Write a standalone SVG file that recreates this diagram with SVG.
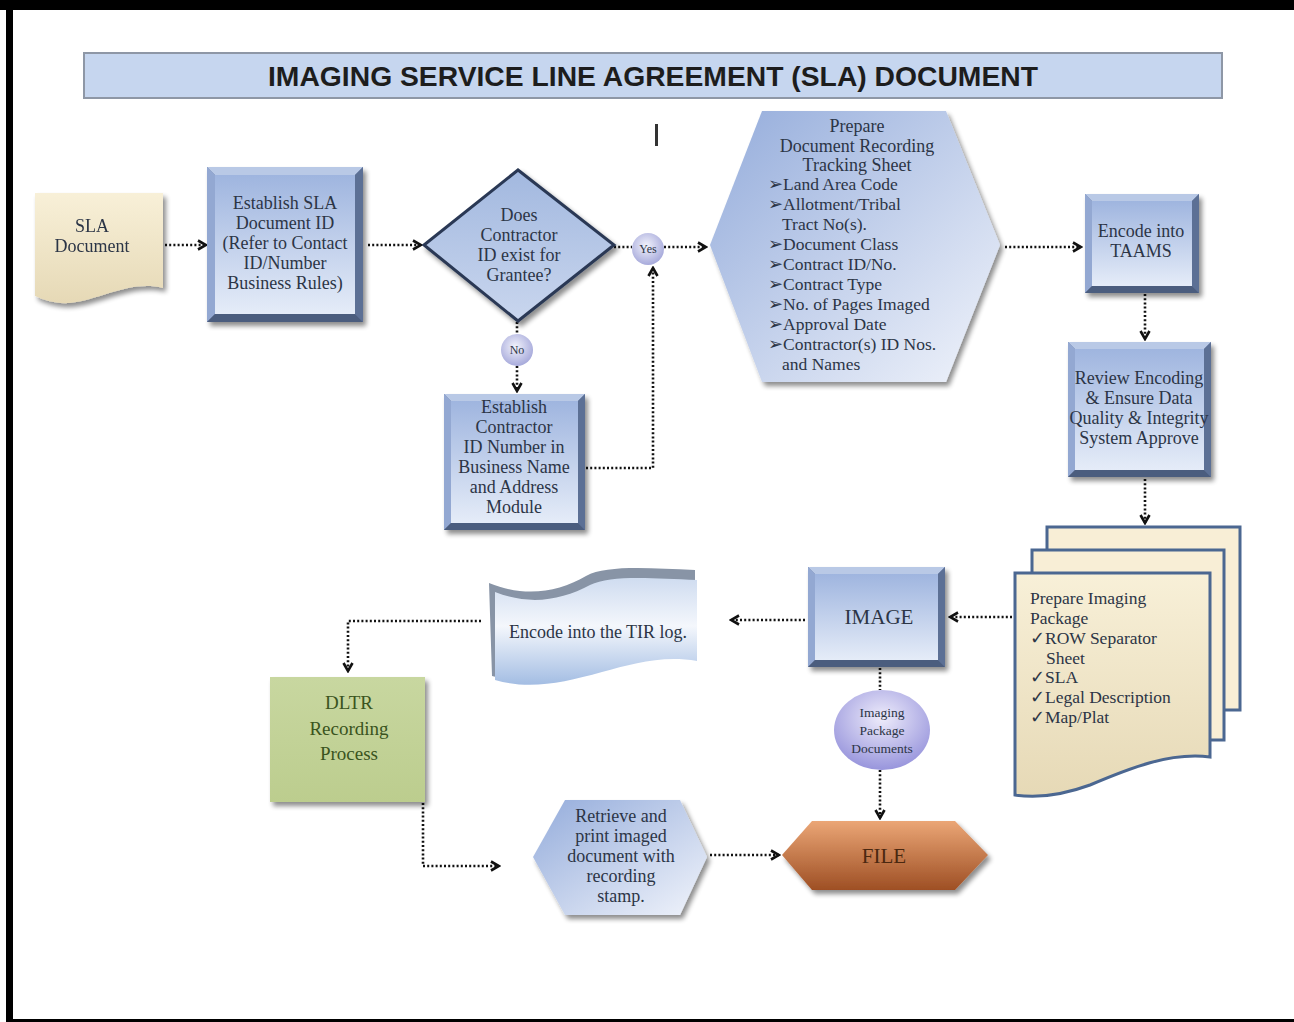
<svg xmlns="http://www.w3.org/2000/svg" width="1294" height="1022" viewBox="0 0 1294 1022">
  <defs>
    <style>
      .t { font-family: "Liberation Serif", "Times New Roman", serif; font-size: 18px; fill: #2c3546; text-anchor: middle; }
      .tl { font-family: "Liberation Serif", "Times New Roman", serif; font-size: 17.5px; fill: #2c3546; text-anchor: start; }
      .sm { font-family: "Liberation Serif", "Times New Roman", serif; fill: #2c3546; text-anchor: middle; }
      .conn { fill: none; stroke: #111; stroke-width: 2.6; stroke-dasharray: 2 2.2; }
      .arr { marker-end: url(#chev); }
    </style>
    <marker id="chev" viewBox="0 0 12 12" refX="10" refY="6" markerWidth="12" markerHeight="12" markerUnits="userSpaceOnUse" orient="auto">
      <path d="M2,1.5 L10,6 L2,10.5" fill="none" stroke="#111" stroke-width="2.6"/>
    </marker>
    <filter id="shadow" x="-10%" y="-10%" width="130%" height="130%">
      <feGaussianBlur in="SourceAlpha" stdDeviation="2.5"/>
      <feOffset dx="3" dy="4" result="b"/>
      <feComponentTransfer><feFuncA type="linear" slope="0.45"/></feComponentTransfer>
      <feMerge><feMergeNode/><feMergeNode in="SourceGraphic"/></feMerge>
    </filter>
    <linearGradient id="blueFace" x1="0" y1="0" x2="0" y2="1">
      <stop offset="0" stop-color="#9fb5df"/>
      <stop offset="1" stop-color="#e5ecf8"/>
    </linearGradient>
    <linearGradient id="hexFace" x1="0" y1="0" x2="1" y2="1">
      <stop offset="0" stop-color="#94acdb"/>
      <stop offset="1" stop-color="#f1f4fb"/>
    </linearGradient>
    <linearGradient id="diaFace" x1="0" y1="0" x2="0" y2="1">
      <stop offset="0" stop-color="#a2b8df"/>
      <stop offset="1" stop-color="#c9d6ee"/>
    </linearGradient>
    <linearGradient id="docFace" x1="0" y1="0" x2="0" y2="1">
      <stop offset="0" stop-color="#f8f0d8"/>
      <stop offset="1" stop-color="#e6d9b6"/>
    </linearGradient>
    <linearGradient id="tapeFace" x1="0" y1="0" x2="0" y2="1">
      <stop offset="0" stop-color="#cfdcf0"/>
      <stop offset="0.45" stop-color="#f4f7fc"/>
      <stop offset="1" stop-color="#a3bde3"/>
    </linearGradient>
    <linearGradient id="greenFace" x1="0" y1="0" x2="0" y2="1">
      <stop offset="0" stop-color="#c8d7a0"/>
      <stop offset="1" stop-color="#bccd8e"/>
    </linearGradient>
    <linearGradient id="fileFace" x1="0" y1="0" x2="0" y2="1">
      <stop offset="0" stop-color="#eba676"/>
      <stop offset="1" stop-color="#9e4f24"/>
    </linearGradient>
    <radialGradient id="bubble" cx="0.45" cy="0.4" r="0.6">
      <stop offset="0" stop-color="#f2f3fc"/>
      <stop offset="1" stop-color="#a7aadb"/>
    </radialGradient>
    <radialGradient id="lavender" cx="0.5" cy="0.35" r="0.65">
      <stop offset="0" stop-color="#eeecfb"/>
      <stop offset="1" stop-color="#9895dc"/>
    </radialGradient>
  </defs>

  <!-- page -->
  <rect width="1294" height="1022" fill="#ffffff"/>
  <rect x="0" y="0" width="1294" height="10" fill="#000"/>
  <rect x="6" y="0" width="7" height="1022" fill="#000"/>
  <rect x="6" y="1019" width="1288" height="3" fill="#000"/>

  <!-- title -->
  <g id="title">
    <rect x="84" y="53" width="1138" height="45" fill="#c6d6ef" stroke="#8e97a6" stroke-width="2"/>
    <text x="653" y="86" font-family="Liberation Sans, Arial, sans-serif" font-weight="bold" font-size="28" fill="#1d1d1d" text-anchor="middle" textLength="770" lengthAdjust="spacingAndGlyphs">IMAGING SERVICE LINE AGREEMENT (SLA) DOCUMENT</text>
  </g>
  <rect x="655" y="124" width="3" height="22" fill="#333"/>

  <!-- connectors -->
  <g id="connectors">
    <path class="conn arr" d="M165,245 H206"/>
    <path class="conn arr" d="M368,245 H421"/>
    <path class="conn" d="M614,247 H632"/>
    <path class="conn arr" d="M664,247 H706"/>
    <path class="conn" d="M517,322 V334"/>
    <path class="conn arr" d="M517,366 V391"/>
    <path class="conn arr" d="M586,468 H653 V268"/>
    <path class="conn arr" d="M1005,247 H1081"/>
    <path class="conn arr" d="M1145,294 V339"/>
    <path class="conn arr" d="M1145,479 V523"/>
    <path class="conn arr" d="M1012,617 H950"/>
    <path class="conn arr" d="M805,620 H731"/>
    <path class="conn arr" d="M481,621 H348 V671"/>
    <path class="conn arr" d="M423,803 V866 H499"/>
    <path class="conn arr" d="M710,855 H779"/>
    <path class="conn" d="M880,668 V690"/>
    <path class="conn arr" d="M880,770 V818"/>
  </g>

  <!-- SLA document -->
  <g id="sla-document" filter="url(#shadow)">
    <path d="M35,193 H163 V288 C130,280 100,300 70,303 C55,304 44,300 35,296 Z" fill="url(#docFace)"/>
    <text class="t" x="92" y="232">SLA</text>
    <text class="t" x="92" y="252">Document</text>
  </g>

  <!-- Establish SLA Document ID -->
  <g id="establish-sla">
    <g filter="url(#shadow)">
      <rect x="207" y="167" width="156" height="155" fill="#6c80a6"/>
      <polygon points="207,167 363,167 355,175 215,175" fill="#b9c9e6"/>
      <polygon points="207,167 215,175 215,314 207,322" fill="#93a8d2"/>
      <polygon points="363,167 363,322 355,314 355,175" fill="#5b6f95"/>
      <polygon points="207,322 363,322 355,314 215,314" fill="#4c5d7e"/>
      <rect x="215" y="175" width="140" height="139" fill="url(#blueFace)"/>
    </g>
    <text class="t" x="285" y="209">Establish SLA</text>
    <text class="t" x="285" y="229">Document ID</text>
    <text class="t" x="285" y="249">(Refer to Contact</text>
    <text class="t" x="285" y="269">ID/Number</text>
    <text class="t" x="285" y="289">Business Rules)</text>
  </g>

  <!-- Decision -->
  <g id="decision">
    <polygon points="424,245 518,170 614,245 518,321" fill="url(#diaFace)" stroke="#2a3954" stroke-width="3" filter="url(#shadow)"/>
    <text class="t" x="519" y="221">Does</text>
    <text class="t" x="519" y="241">Contractor</text>
    <text class="t" x="519" y="261">ID exist for</text>
    <text class="t" x="519" y="281">Grantee?</text>
  </g>

  <g id="yes">
    <circle cx="648" cy="249" r="16" fill="url(#bubble)"/>
    <text class="sm" x="648" y="253" font-size="12">Yes</text>
  </g>
  <g id="no">
    <circle cx="517" cy="350" r="16" fill="url(#bubble)"/>
    <text class="sm" x="517" y="354" font-size="12">No</text>
  </g>

  <!-- Establish Contractor ID -->
  <g id="establish-contractor">
    <g filter="url(#shadow)">
      <rect x="444" y="394" width="141" height="136" fill="#6c80a6"/>
      <polygon points="444,394 585,394 578,401 451,401" fill="#b9c9e6"/>
      <polygon points="444,394 451,401 451,523 444,530" fill="#93a8d2"/>
      <polygon points="585,394 585,530 578,523 578,401" fill="#5b6f95"/>
      <polygon points="444,530 585,530 578,523 451,523" fill="#4c5d7e"/>
      <rect x="451" y="401" width="127" height="122" fill="url(#blueFace)"/>
    </g>
    <text class="t" x="514" y="413">Establish</text>
    <text class="t" x="514" y="433">Contractor</text>
    <text class="t" x="514" y="453">ID Number in</text>
    <text class="t" x="514" y="473">Business Name</text>
    <text class="t" x="514" y="493">and Address</text>
    <text class="t" x="514" y="513">Module</text>
  </g>

  <!-- Prepare Document Recording Tracking Sheet -->
  <g id="tracking-sheet">
    <polygon points="710,245 762,111 946,111 1000,245 946,382 762,382" fill="url(#hexFace)" filter="url(#shadow)"/>
    <text class="t" x="857" y="132">Prepare</text>
    <text class="t" x="857" y="152">Document Recording</text>
    <text class="t" x="857" y="171">Tracking Sheet</text>
    <text class="tl" x="768" y="190">➢Land Area Code</text>
    <text class="tl" x="768" y="210">➢Allotment/Tribal</text>
    <text class="tl" x="782" y="230">Tract No(s).</text>
    <text class="tl" x="768" y="250">➢Document Class</text>
    <text class="tl" x="768" y="270">➢Contract ID/No.</text>
    <text class="tl" x="768" y="290">➢Contract Type</text>
    <text class="tl" x="768" y="310">➢No. of Pages Imaged</text>
    <text class="tl" x="768" y="330">➢Approval Date</text>
    <text class="tl" x="768" y="350">➢Contractor(s) ID Nos.</text>
    <text class="tl" x="782" y="370">and Names</text>
  </g>

  <!-- Encode into TAAMS -->
  <g id="encode-taams">
    <g filter="url(#shadow)">
      <rect x="1085" y="194" width="114" height="99" fill="#6c80a6"/>
      <polygon points="1085,194 1199,194 1192,201 1092,201" fill="#b9c9e6"/>
      <polygon points="1085,194 1092,201 1092,286 1085,293" fill="#93a8d2"/>
      <polygon points="1199,194 1199,293 1192,286 1192,201" fill="#5b6f95"/>
      <polygon points="1085,293 1199,293 1192,286 1092,286" fill="#4c5d7e"/>
      <rect x="1092" y="201" width="100" height="85" fill="url(#blueFace)"/>
    </g>
    <text class="t" x="1141" y="237">Encode into</text>
    <text class="t" x="1141" y="257">TAAMS</text>
  </g>

  <!-- Review Encoding -->
  <g id="review-encoding">
    <g filter="url(#shadow)">
      <rect x="1068" y="342" width="143" height="135" fill="#6c80a6"/>
      <polygon points="1068,342 1211,342 1204,349 1075,349" fill="#b9c9e6"/>
      <polygon points="1068,342 1075,349 1075,470 1068,477" fill="#93a8d2"/>
      <polygon points="1211,342 1211,477 1204,470 1204,349" fill="#5b6f95"/>
      <polygon points="1068,477 1211,477 1204,470 1075,470" fill="#4c5d7e"/>
      <rect x="1075" y="349" width="129" height="121" fill="url(#blueFace)"/>
    </g>
    <text class="t" x="1139" y="384">Review Encoding</text>
    <text class="t" x="1139" y="404">&amp; Ensure Data</text>
    <text class="t" x="1139" y="424">Quality &amp; Integrity</text>
    <text class="t" x="1139" y="444">System Approve</text>
  </g>

  <!-- Prepare Imaging Package -->
  <g id="imaging-package">
    <rect x="1047" y="527" width="193" height="183" fill="#f8eed6" stroke="#4b6791" stroke-width="3"/>
    <rect x="1032" y="550" width="192" height="190" fill="#f8eed6" stroke="#4b6791" stroke-width="3"/>
    <path d="M1015,573 H1210 V757 C1170,752 1130,768 1090,785 C1060,796 1035,798 1015,795 Z" fill="url(#docFace)" stroke="#4b6791" stroke-width="3"/>
    <text class="tl" x="1030" y="604">Prepare Imaging</text>
    <text class="tl" x="1030" y="624">Package</text>
    <text class="tl" x="1030" y="644">✓ROW Separator</text>
    <text class="tl" x="1046" y="664">Sheet</text>
    <text class="tl" x="1030" y="683">✓SLA</text>
    <text class="tl" x="1030" y="703">✓Legal Description</text>
    <text class="tl" x="1030" y="723">✓Map/Plat</text>
  </g>

  <!-- IMAGE -->
  <g id="image">
    <g filter="url(#shadow)">
      <rect x="808" y="567" width="137" height="100" fill="#6c80a6"/>
      <polygon points="808,567 945,567 938,574 815,574" fill="#b9c9e6"/>
      <polygon points="808,567 815,574 815,660 808,667" fill="#93a8d2"/>
      <polygon points="945,567 945,667 938,660 938,574" fill="#5b6f95"/>
      <polygon points="808,667 945,667 938,660 815,660" fill="#4c5d7e"/>
      <rect x="815" y="574" width="123" height="86" fill="url(#blueFace)"/>
    </g>
    <text class="t" x="879" y="624" style="font-size:21px">IMAGE</text>
  </g>

  <!-- Encode into the TIR log -->
  <g id="tir-log">
    <path d="M491,587 C528,602 560,596 588,580 C608,569 650,572 697,574 L697,661 C662,655 632,664 602,672 C562,683 530,690 494,680 Z" fill="#8894a6" transform="translate(-2,-4)"/>
    <path d="M495,592 C530,606 562,600 590,585 C610,575 650,578 697,580 L697,661 C662,655 632,664 602,672 C562,683 530,690 495,680 Z" fill="url(#tapeFace)"/>
    <text class="t" x="598" y="638">Encode into the TIR log.</text>
  </g>

  <!-- Imaging Package Documents -->
  <g id="package-documents">
    <ellipse cx="882" cy="730" rx="48" ry="40" fill="url(#lavender)"/>
    <text class="sm" x="882" y="717" font-size="13.5">Imaging</text>
    <text class="sm" x="882" y="735" font-size="13.5">Package</text>
    <text class="sm" x="882" y="753" font-size="13.5">Documents</text>
  </g>

  <!-- DLTR Recording Process -->
  <g id="dltr">
    <rect x="270" y="677" width="155" height="125" fill="url(#greenFace)" filter="url(#shadow)"/>
    <text class="t" x="349" y="709" style="fill:#3a5420;font-size:19px">DLTR</text>
    <text class="t" x="349" y="735" style="fill:#3a5420;font-size:19px">Recording</text>
    <text class="t" x="349" y="760" style="fill:#3a5420;font-size:19px">Process</text>
  </g>

  <!-- Retrieve and print -->
  <g id="retrieve">
    <polygon points="533,857 565,800 680,800 707,857 680,915 565,915" fill="url(#hexFace)" filter="url(#shadow)"/>
    <text class="t" x="621" y="822">Retrieve and</text>
    <text class="t" x="621" y="842">print imaged</text>
    <text class="t" x="621" y="862">document with</text>
    <text class="t" x="621" y="882">recording</text>
    <text class="t" x="621" y="902">stamp.</text>
  </g>

  <!-- FILE -->
  <g id="file">
    <polygon points="782,855 812,821 955,821 988,855 955,890 812,890" fill="url(#fileFace)" filter="url(#shadow)"/>
    <text class="t" x="884" y="863" style="font-size:21px;fill:#4a2810">FILE</text>
  </g>
</svg>
